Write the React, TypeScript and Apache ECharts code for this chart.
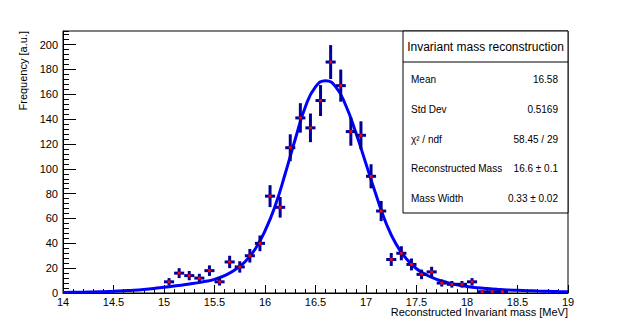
import React, { useEffect, useRef } from "react";
import * as echarts from "echarts";

// Histogram bins (centres, MeV) and counts
const binCenters = [
  15.05, 15.15, 15.25, 15.35, 15.45, 15.55, 15.65, 15.75, 15.85, 15.95,
  16.05, 16.15, 16.25, 16.35, 16.45, 16.55, 16.65, 16.75, 16.85, 16.95,
  17.05, 17.15, 17.25, 17.35, 17.45, 17.55, 17.65, 17.75, 17.85, 17.95,
  18.05, 18.15, 18.25, 18.35,
];
const counts = [
  9, 16, 14, 12, 18, 9, 25, 21, 30, 40,
  78, 69, 117, 141, 133, 155, 186, 167, 130, 127,
  94, 66, 27, 32, 23, 15, 17, 8, 7, 7,
  9, 1, 1, 1,
];
const binHalfWidth = 0.05;

// Fit curve
const fitX = [
  14.0, 14.1, 14.2, 14.3, 14.4, 14.5, 14.6, 14.7, 14.8, 14.9,
  15.0, 15.1, 15.2, 15.3, 15.4, 15.5, 15.6, 15.7, 15.8, 15.9,
  16.0, 16.1, 16.2, 16.3, 16.4, 16.5, 16.6, 16.7, 16.8, 16.9,
  17.0, 17.1, 17.2, 17.3, 17.4, 17.5, 17.6, 17.7, 17.8, 17.9,
  18.0, 18.1, 18.2, 18.3, 18.4, 18.5, 18.6, 18.7, 18.8, 18.9, 19.0,
];
const fitY = [
  0.5, 0.6, 0.7, 0.9, 1.1, 1.4, 1.8, 2.2, 2.8, 3.6,
  4.6, 5.6, 6.6, 7.8, 9.2, 11, 14, 18.5, 25, 35,
  50, 70, 96, 124, 150, 166, 171, 166, 151, 129,
  104, 79, 56, 39, 27.5, 19.5, 14.5, 11, 8.5, 6.6,
  5.3, 4.3, 3.6, 3.0, 2.5, 2.2, 1.9, 1.6, 1.4, 1.2, 1.1,
];

const statsTitle = "Invariant mass reconstruction";
const statsLabels = ["Mean", "Std Dev", "χ² / ndf", "Reconstructed Mass", "Mass Width"];
const statsValues = ["16.58", "0.5169", "58.45 / 29", "16.6 ± 0.1", "0.33 ± 0.02"];

const xTitle = "Reconstructed Invariant mass [MeV]";
const yTitle = "Frequency [a.u.]";

const FONT = "Liberation Sans, Arial, Helvetica, sans-serif";

export default function App() {
  const ref = useRef<HTMLDivElement>(null);

  useEffect(() => {
    if (!ref.current) return;
    const chart = echarts.init(ref.current, undefined, { renderer: "svg" });

    const pointData = binCenters.map((x, i) => [x, counts[i], Math.sqrt(counts[i])]);
    const fitData = fitX.map((x, i) => [x, fitY[i]]);

    const left = 63, right = 62, top = 31, bottom = 33;
    const W = 630;

    const boxX = 403, boxY = 31, boxW = 165, boxH = 182;
    const rowY = [79, 109, 139, 168, 198];

    const graphics: any[] = [
      {
        type: "rect",
        shape: { x: boxX, y: boxY, width: boxW, height: boxH },
        style: { fill: "#fff", stroke: "#000", lineWidth: 1 },
        z: 10,
      },
      {
        type: "line",
        shape: { x1: boxX, y1: 62, x2: boxX + boxW, y2: 62 },
        style: { stroke: "#000", lineWidth: 1 },
        z: 11,
      },
      {
        type: "text",
        x: boxX + boxW / 2,
        y: 47,
        style: {
          text: statsTitle,
          fontSize: 12,
          fontFamily: FONT,
          fill: "#000",
          align: "center",
          verticalAlign: "middle",
        },
        z: 11,
      },
      {
        type: "text",
        x: W - right,
        y: 312,
        style: {
          text: xTitle,
          fontSize: 11,
          fontFamily: FONT,
          fill: "#000",
          align: "right",
          verticalAlign: "middle",
        },
      },
      {
        type: "text",
        x: 23,
        y: 31,
        rotation: Math.PI / 2,
        style: {
          text: yTitle,
          fontSize: 11,
          fontFamily: FONT,
          fill: "#000",
          align: "right",
          verticalAlign: "middle",
        },
      },
    ];
    statsLabels.forEach((lab, i) => {
      graphics.push({
        type: "text",
        x: 411,
        y: rowY[i],
        style: { text: lab, fontSize: 10, fontFamily: FONT, fill: "#000", align: "left", verticalAlign: "middle" },
        z: 11,
      });
      graphics.push({
        type: "text",
        x: 558,
        y: rowY[i],
        style: { text: statsValues[i], fontSize: 10, fontFamily: FONT, fill: "#000", align: "right", verticalAlign: "middle" },
        z: 11,
      });
    });

    chart.setOption({
      animation: false,
      backgroundColor: "#fff",
      grid: {
        left, right, top, bottom,
        show: true,
        borderColor: "#000",
        borderWidth: 1,
        backgroundColor: "transparent",
      },
      xAxis: {
        type: "value",
        min: 14,
        max: 19,
        interval: 0.5,
        position: "bottom",
        axisLine: { lineStyle: { color: "#000", width: 1 } },
        axisTick: { inside: true, length: 8, lineStyle: { color: "#000", width: 1 } },
        minorTick: { show: true, splitNumber: 5, length: 4, lineStyle: { color: "#000", width: 1 } },
        splitLine: { show: false },
        axisLabel: {
          color: "#000",
          fontSize: 11,
          fontFamily: FONT,
          margin: 3,
          showMinLabel: true,
          showMaxLabel: true,
        },
      },
      yAxis: [
        {
          type: "value",
          min: 0,
          max: 211,
          interval: 20,
          position: "left",
          axisLine: { show: true, lineStyle: { color: "#000", width: 1 } },
          axisTick: { inside: true, length: 13, lineStyle: { color: "#000", width: 1 } },
          splitLine: { show: false },
          axisLabel: {
            color: "#000",
            fontSize: 11,
            fontFamily: FONT,
            margin: 5,
            showMaxLabel: false,
            formatter: (v: number) => (v % 20 === 0 ? String(v) : ""),
          },
        },
        {
          type: "value",
          min: 0,
          max: 211,
          interval: 4,
          position: "left",
          axisLine: { show: false },
          axisTick: { show: true, inside: true, length: 6, lineStyle: { color: "#000", width: 1 } },
          splitLine: { show: false },
          axisLabel: { show: false },
        },
      ],
      series: [
        {
          type: "line",
          data: fitData,
          xAxisIndex: 0,
          yAxisIndex: 0,
          smooth: 0.5,
          showSymbol: false,
          symbol: "none",
          lineStyle: { color: "#0000ff", width: 3 },
          z: 3,
        },
        {
          type: "custom",
          data: pointData,
          xAxisIndex: 0,
          yAxisIndex: 0,
          z: 4,
          renderItem: (params: any, api: any) => {
            const x = api.value(0);
            const y = api.value(1);
            const e = api.value(2);
            const c = api.coord([x, y]);
            const t = api.coord([x, y + e]);
            const b = api.coord([x, Math.max(0, y - e)]);
            const l = api.coord([x - binHalfWidth, y]);
            const r = api.coord([x + binHalfWidth, y]);
            return {
              type: "group",
              children: [
                { type: "line", shape: { x1: c[0], y1: t[1], x2: c[0], y2: b[1] }, style: { stroke: "#000099", lineWidth: 3 } },
                { type: "line", shape: { x1: l[0], y1: c[1], x2: r[0], y2: c[1] }, style: { stroke: "#000099", lineWidth: 3 } },
                { type: "circle", shape: { cx: c[0], cy: c[1], r: 1.6 }, style: { fill: "#ff0000" } },
              ],
            };
          },
        },
      ],
      graphic: graphics,
    });

    return () => chart.dispose();
  }, []);

  return (
    <div
      ref={ref}
      style={{ position: "absolute", left: 0, top: 0, width: 630, height: 326 }}
    />
  );
}
